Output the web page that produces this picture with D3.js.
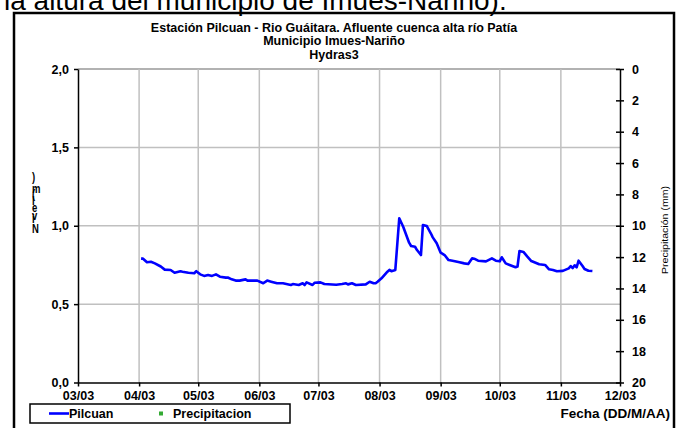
<!DOCTYPE html>
<html>
<head>
<meta charset="utf-8">
<script src="https://cdn.jsdelivr.net/npm/d3@7"></script>
<style>
  html, body { margin: 0; padding: 0; background: #fff; }
  svg { display: block; font-family: "Liberation Sans", Arial, sans-serif; }
</style>
</head>
<body>
<svg id="chart" width="679" height="428"></svg>
<script>
// Nivel del río, estación Pilcuan (m)
const dates = [
  "2003-04-02","2003-04-03","2003-04-05","2003-04-07","2003-04-09","2003-04-12","2003-04-14","2003-04-17",
  "2003-04-19","2003-04-22","2003-04-23","2003-04-26","2003-04-29","2003-04-30","2003-05-02","2003-05-04",
  "2003-05-06","2003-05-08","2003-05-10","2003-05-12","2003-05-15","2003-05-16","2003-05-18","2003-05-20",
  "2003-05-22","2003-05-25","2003-05-26","2003-05-31","2003-06-03","2003-06-05","2003-06-07","2003-06-10",
  "2003-06-13","2003-06-17","2003-06-18","2003-06-21","2003-06-23","2003-06-24","2003-06-25","2003-06-28",
  "2003-06-29","2003-07-02","2003-07-04","2003-07-10","2003-07-13","2003-07-15","2003-07-16","2003-07-18",
  "2003-07-20","2003-07-25","2003-07-27","2003-07-29","2003-07-30","2003-07-31","2003-08-02","2003-08-05",
  "2003-08-06","2003-08-07","2003-08-09","2003-08-11","2003-08-13","2003-08-16","2003-08-17","2003-08-19",
  "2003-08-20","2003-08-22","2003-08-23","2003-08-25","2003-08-27","2003-08-28","2003-08-30","2003-09-01",
  "2003-09-03","2003-09-05","2003-09-07","2003-09-10","2003-09-13","2003-09-15","2003-09-17","2003-09-18",
  "2003-09-20","2003-09-24","2003-09-27","2003-09-29","2003-10-01","2003-10-02","2003-10-04","2003-10-06",
  "2003-10-09","2003-10-10","2003-10-11","2003-10-13","2003-10-15","2003-10-17","2003-10-21","2003-10-24",
  "2003-10-26","2003-10-28","2003-10-30","2003-11-02","2003-11-05","2003-11-06","2003-11-07","2003-11-08",
  "2003-11-09","2003-11-10","2003-11-12","2003-11-13","2003-11-15","2003-11-17"
];
const pilcuan = [
  0.79,0.79,0.767,0.77,0.76,0.74,0.72,0.718,
  0.70,0.71,0.707,0.70,0.697,0.71,0.69,0.68,
  0.686,0.68,0.69,0.675,0.669,0.67,0.658,0.65,
  0.65,0.658,0.65,0.65,0.633,0.65,0.643,0.633,
  0.633,0.622,0.628,0.622,0.633,0.622,0.639,0.622,
  0.636,0.639,0.628,0.624,0.628,0.633,0.626,0.633,
  0.622,0.626,0.643,0.633,0.633,0.643,0.665,0.707,
  0.718,0.71,0.718,1.048,0.994,0.892,0.871,0.866,
  0.845,0.813,1.005,0.998,0.952,0.926,0.888,0.828,
  0.813,0.781,0.777,0.769,0.76,0.756,0.792,0.79,
  0.777,0.773,0.792,0.777,0.773,0.799,0.76,0.75,
  0.735,0.74,0.839,0.833,0.803,0.775,0.754,0.75,
  0.722,0.718,0.71,0.712,0.728,0.743,0.73,0.748,
  0.735,0.777,0.743,0.724,0.713,0.711
];
// Precipitación (mm): sin registros en el periodo
const precipDates = [];
const precipitacion = [];

const levelTicks = [0, 0.5, 1.0, 1.5, 2.0];
const rainTicks = [0, 2, 4, 6, 8, 10, 12, 14, 16, 18, 20];
const monthTicks = ["2003-03-01","2003-04-01","2003-05-01","2003-06-01","2003-07-01",
                    "2003-08-01","2003-09-01","2003-10-01","2003-11-01","2003-12-01"];

const titleLines = [
  "Estación Pilcuan - Rio Guáitara. Afluente cuenca alta río Patía",
  "Municipio Imues-Nariño",
  "Hydras3"
];

const parse = d3.timeParse("%Y-%m-%d");
const svg = d3.select("#chart");
const m = { left: 78, right: 620, top: 69, bottom: 382.5 };

// Cropped line of running text above the chart frame
svg.append("text")
  .attr("x", 4).attr("y", 10)
  .attr("font-size", 28)
  .attr("fill", "#000")
  .text("la altura del municipio de Imues-Nariño).");

// Outer frame
svg.append("rect")
  .attr("x", 14).attr("y", 13)
  .attr("width", 660).attr("height", 430)
  .attr("fill", "none").attr("stroke", "#000").attr("stroke-width", 2.5);

// Titles
svg.append("g").selectAll("text").data(titleLines).join("text")
  .attr("x", 334).attr("y", (d, i) => 31.5 + i * 13.5)
  .attr("text-anchor", "middle")
  .attr("font-size", 12.5).attr("font-weight", "bold")
  .text(d => d);

const x = d3.scaleTime()
  .domain([parse(monthTicks[0]), parse(monthTicks[monthTicks.length - 1])])
  .range([m.left, m.right]);
const y = d3.scaleLinear().domain([0, 2]).range([m.bottom, m.top]);
const yR = d3.scaleLinear().domain([20, 0]).range([m.bottom, m.top]);

// Grid
const grid = svg.append("g");
grid.selectAll("line.h").data(levelTicks.filter(v => v > 0)).join("line")
  .attr("x1", m.left).attr("x2", m.right)
  .attr("y1", d => y(d)).attr("y2", d => y(d))
  .attr("stroke", d => d === 2 ? "#999" : "#c0c0c0").attr("stroke-width", 1.5);
grid.selectAll("line.v").data(monthTicks.slice(1, -1)).join("line")
  .attr("x1", d => x(parse(d))).attr("x2", d => x(parse(d)))
  .attr("y1", m.top).attr("y2", m.bottom)
  .attr("stroke", "#c0c0c0").attr("stroke-width", 1.5);

// Axes
const fmtComma = d3.format(".1f");
const axisStyle = g => {
  g.selectAll("path, line").attr("stroke", "#000").attr("stroke-width", 1.5);
  g.selectAll("text").attr("font-size", 12.5).attr("font-weight", "bold")
    .attr("font-family", "Liberation Sans, Arial, sans-serif").attr("fill", "#000");
};

svg.append("g")
  .attr("transform", `translate(${m.left},0)`)
  .call(d3.axisLeft(y).tickValues(levelTicks).tickSize(4).tickSizeOuter(0)
    .tickFormat(d => fmtComma(d).replace(".", ",")))
  .call(axisStyle)
  .call(g => g.selectAll("text").attr("dx", -2));

const rAxis = svg.append("g")
  .attr("transform", `translate(${m.right},0)`)
  .call(d3.axisRight(yR).tickValues(rainTicks).tickSize(4).tickSizeOuter(0))
  .call(axisStyle)
  .call(g => g.selectAll("text").attr("x", 12));
rAxis.selectAll(".tick line").attr("x1", -4);

svg.append("g")
  .attr("transform", `translate(0,${m.bottom})`)
  .call(d3.axisBottom(x).tickValues(monthTicks.map(parse)).tickSize(4).tickSizeOuter(0)
    .tickFormat(d3.timeFormat("%m/%y")))
  .call(axisStyle)
  .call(g => g.selectAll("text").attr("dy", "0.85em"));

// Level series
const line = d3.line()
  .x((d, i) => x(parse(dates[i])))
  .y(d => y(d));
svg.append("path")
  .datum(pilcuan)
  .attr("d", line)
  .attr("fill", "none").attr("stroke", "#0000ff").attr("stroke-width", 2.6)
  .attr("stroke-linejoin", "round");

// Precipitation markers (none recorded)
svg.append("g").selectAll("rect").data(precipitacion).join("rect")
  .attr("x", (d, i) => x(parse(precipDates[i])) - 2)
  .attr("y", d => yR(d) - 2)
  .attr("width", 4).attr("height", 4).attr("fill", "#33aa33");

// Axis titles (compressed, glyphs stacked)
svg.append("text")
  .attr("transform", "translate(32,233) rotate(-90)")
  .attr("rotate", 90)
  .attr("font-size", 9.5).attr("font-weight", "bold")
  .attr("textLength", 56).attr("lengthAdjust", "spacingAndGlyphs")
  .text("Nivel (m)");

svg.append("text")
  .attr("transform", "translate(668,274) rotate(-90)")
  .attr("font-size", 8.5)
  .attr("textLength", 88).attr("lengthAdjust", "spacingAndGlyphs")
  .text("Precipitación (mm)");

svg.append("text")
  .attr("x", 670).attr("y", 418)
  .attr("text-anchor", "end")
  .attr("font-size", 13.5).attr("font-weight", "bold")
  .text("Fecha (DD/M/AA)");

// Legend
const lg = svg.append("g");
lg.append("rect").attr("x", 30).attr("y", 404).attr("width", 260).attr("height", 19)
  .attr("fill", "#fff").attr("stroke", "#000").attr("stroke-width", 1.5);
lg.append("line").attr("x1", 49).attr("x2", 69).attr("y1", 413.5).attr("y2", 413.5)
  .attr("stroke", "#0000ff").attr("stroke-width", 2.6);
lg.append("text").attr("x", 69).attr("y", 418).attr("font-size", 12.5).attr("font-weight", "bold")
  .text("Pilcuan");
lg.append("rect").attr("x", 159).attr("y", 411.5).attr("width", 4).attr("height", 4).attr("fill", "#33aa33");
lg.append("text").attr("x", 173).attr("y", 418).attr("font-size", 12.5).attr("font-weight", "bold")
  .text("Precipitacion");
</script>
</body>
</html>
